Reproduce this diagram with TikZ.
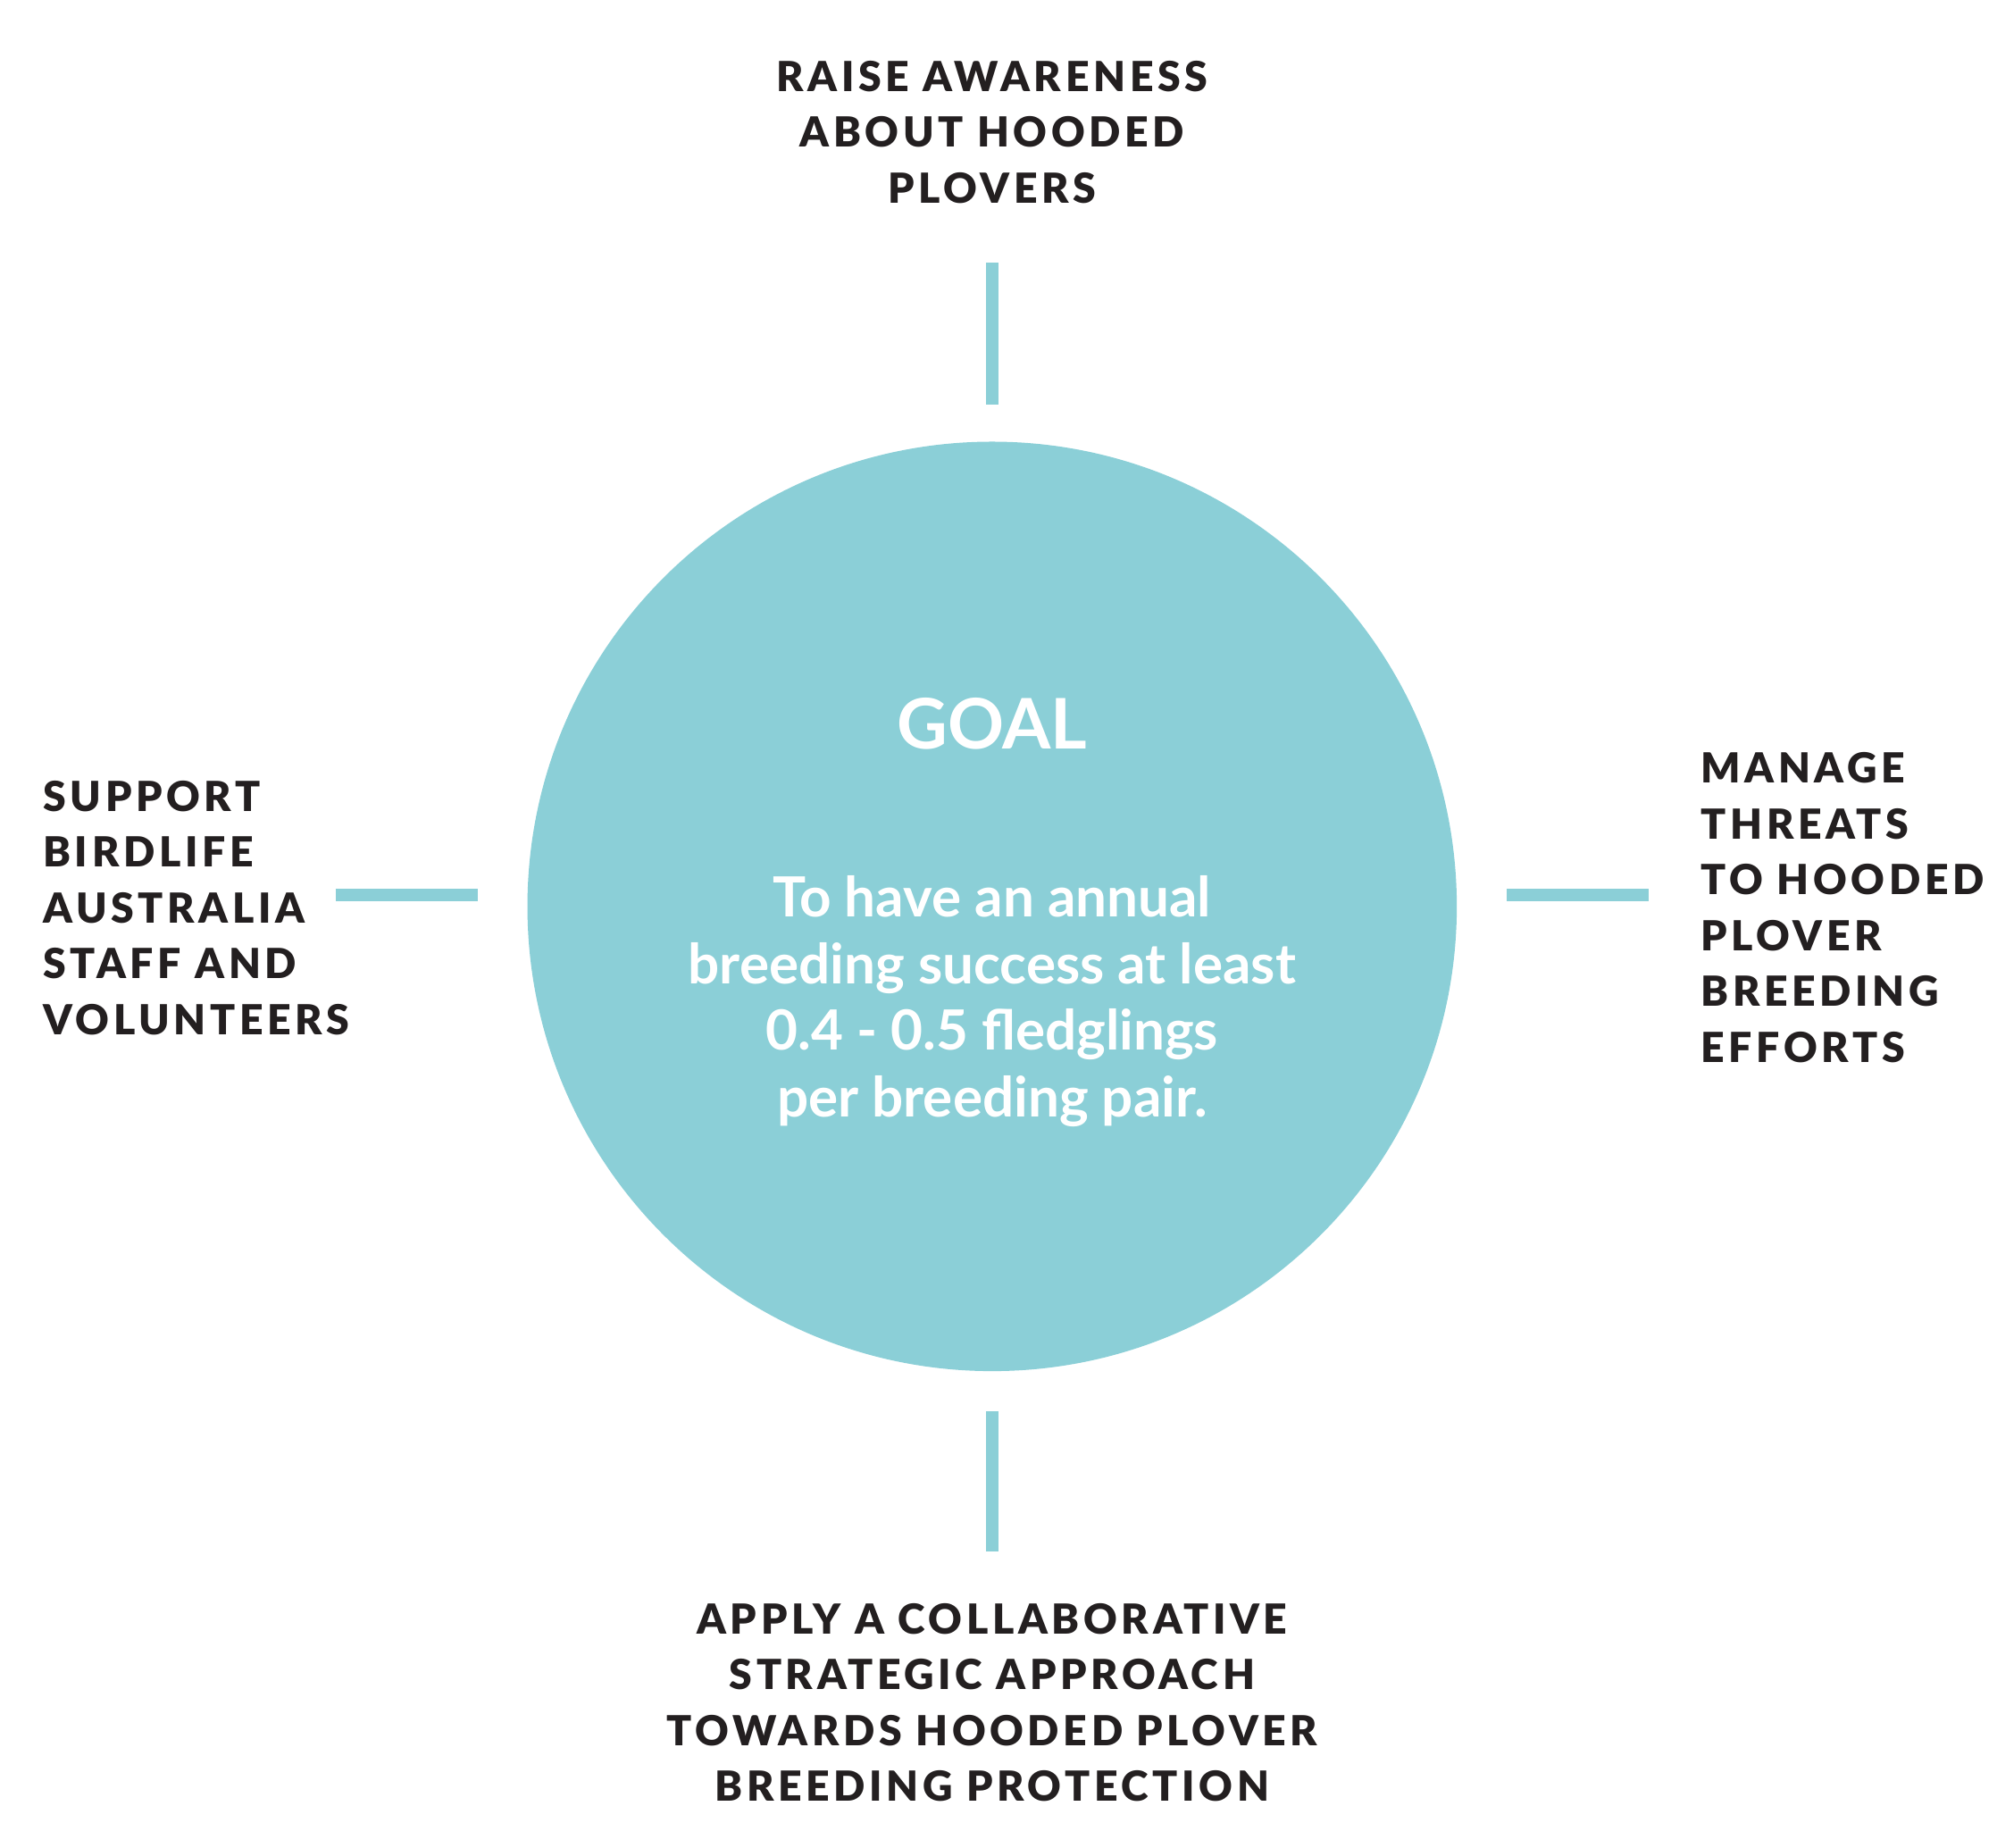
\documentclass[tikz,border=0pt]{standalone}
\usepackage{fontspec}
\setmainfont{Lato}
\newfontfamily\capsfont[LetterSpace=10]{Lato Black}
\definecolor{plover}{HTML}{8BCFD7}
\definecolor{ink}{HTML}{231F20}
\tikzset{
	aim/.style={font=\capsfont\fontsize{9.2}{12.4}\selectfont, text=ink, inner sep=0pt},
	tick/.style={draw=plover, line width=0.1cm}
}
\begin{document}
\begin{tikzpicture}[x=0.01cm, y=-0.01cm]
		\useasboundingbox (0, 0) rectangle (1560, 1443);

		\fill[plover]	(775, 708) circle (363);
		\node[font=\bfseries\fontsize{15.5}{18}\selectfont, text=white] (goal) at (775, 565) {GOAL};
		\node[align=center, text=white, font=\bfseries\fontsize{12.3}{14.8}\selectfont] (text) at (775, 782)
			{To have an annual\\breeding success at least\\0.4 - 0.5 fledglings\\per breeding pair.};

		\node[aim, align=center] (top) at (775, 103) {RAISE AWARENESS\\ABOUT HOODED\\PLOVERS};
		\node[aim, align=left, anchor=west] (left) at (33, 709) {SUPPORT\\BIRDLIFE\\AUSTRALIA\\STAFF AND\\VOLUNTEERS};
		\node[aim, align=left, anchor=west] (right) at (1328, 709) {MANAGE\\THREATS\\TO HOODED\\PLOVER\\BREEDING\\EFFORTS};
		\node[aim, align=center] (bottom) at (775, 1330) {APPLY A COLLABORATIVE\\STRATEGIC APPROACH\\TOWARDS HOODED PLOVER\\BREEDING PROTECTION};

		\coordinate (t1) at (775, 205);	\coordinate (t2) at (775, 316);
		\coordinate (b1) at (775, 1102);	\coordinate (b2) at (775, 1212);
		\coordinate (l1) at (262, 699);	\coordinate (l2) at (373, 699);
		\coordinate (r1) at (1177, 699);	\coordinate (r2) at (1288, 699);
		\draw[tick]	(t1) -- (t2)
					(b1) -- (b2)
					(l1) -- (l2)
					(r1) -- (r2);
	\end{tikzpicture}
\end{document}
